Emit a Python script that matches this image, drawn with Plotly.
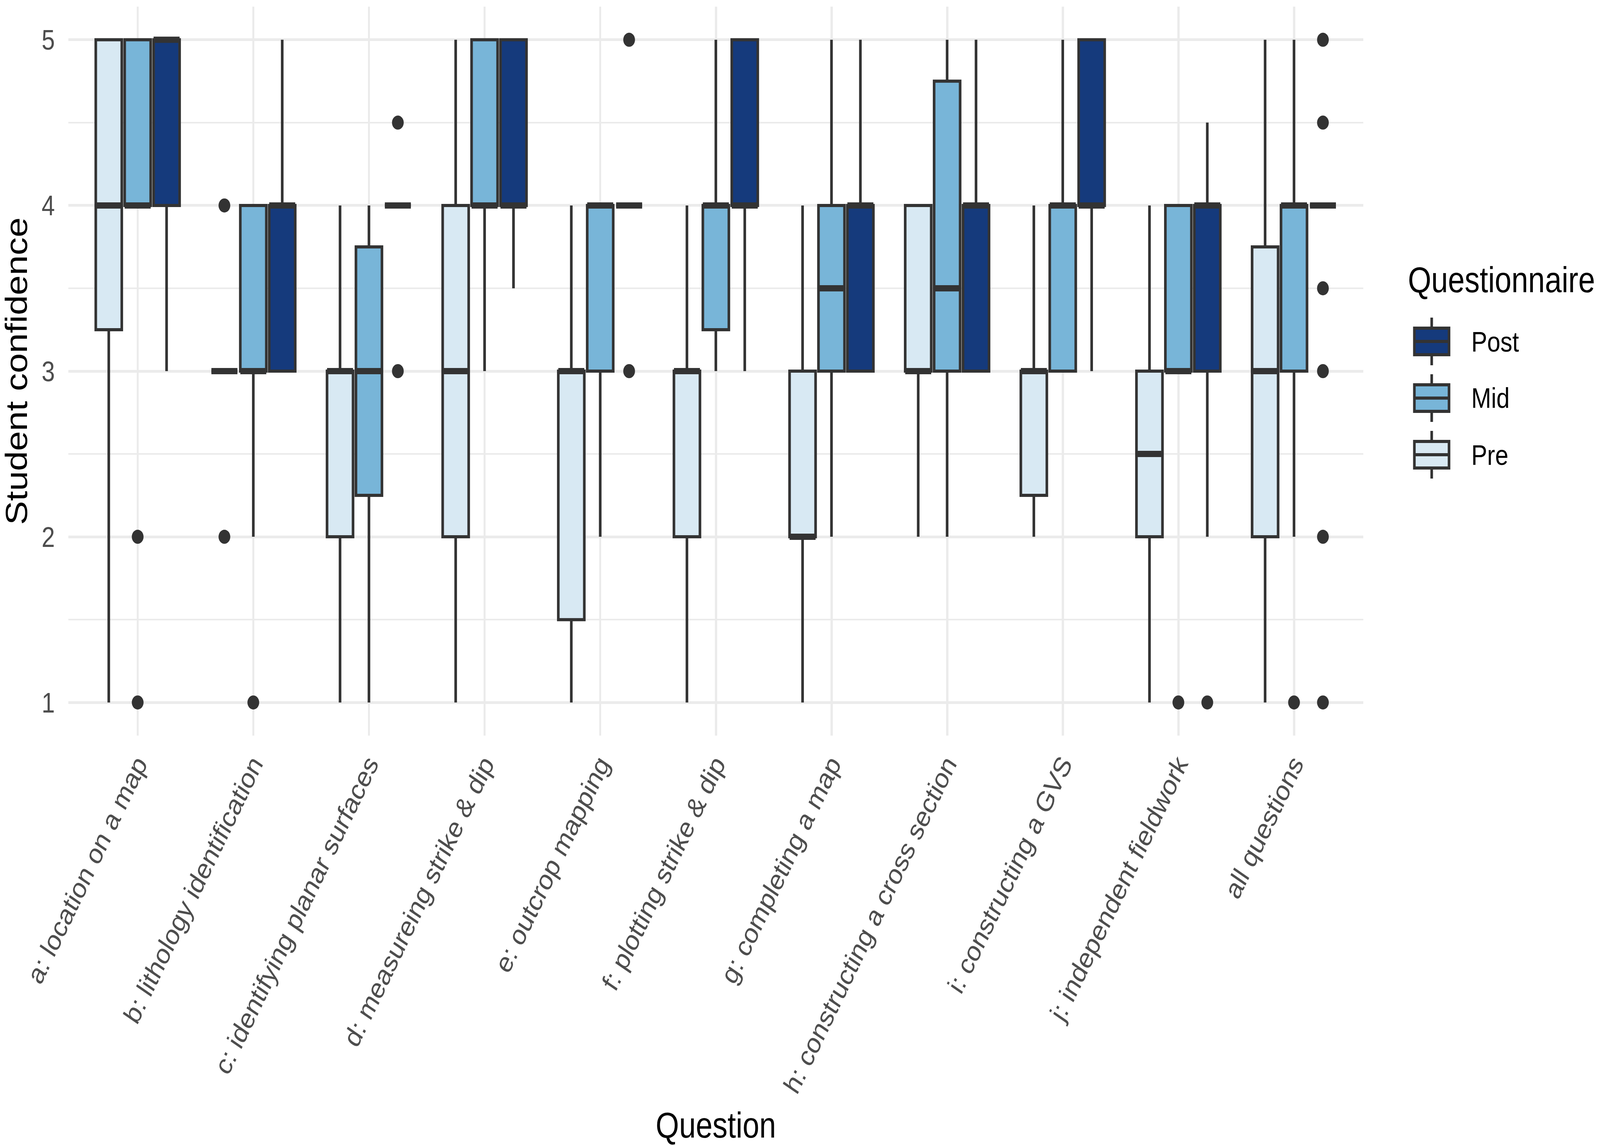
import plotly.graph_objects as go

# ---------------- data ----------------
categories = ["a: location on a map", "b: lithology identification",
              "c: identifying planar surfaces", "d: measureing strike & dip",
              "e: outcrop mapping", "f: plotting strike & dip",
              "g: completing a map", "h: constructing a cross section",
              "i: constructing a GVS", "j: independent fieldwork",
              "all questions"]

series = ["Pre", "Mid", "Post"]
colors = {"Pre": "#D8E9F3", "Mid": "#78B5D8", "Post": "#153A7C"}
offsets = {"Pre": -0.25, "Mid": 0.0, "Post": 0.25}

pre_q1 = [3.25, 3, 2, 2, 1.5, 2, 2, 3, 2.25, 2, 2]
pre_med = [4, 3, 3, 3, 3, 3, 2, 3, 3, 2.5, 3]
pre_q3 = [5, 3, 3, 4, 3, 3, 3, 4, 3, 3, 3.75]
pre_lo = [1, 3, 1, 1, 1, 1, 1, 2, 2, 1, 1]
pre_hi = [5, 3, 4, 5, 4, 4, 4, 4, 4, 4, 5]
pre_out = [[], [4, 2], [], [], [], [], [], [], [], [], []]

mid_q1 = [4, 3, 2.25, 4, 3, 3.25, 3, 3, 3, 3, 3]
mid_med = [4, 3, 3, 4, 4, 4, 3.5, 3.5, 4, 3, 4]
mid_q3 = [5, 4, 3.75, 5, 4, 4, 4, 4.75, 4, 4, 4]
mid_lo = [4, 2, 1, 3, 2, 3, 2, 2, 3, 3, 2]
mid_hi = [5, 4, 4, 5, 4, 5, 5, 5, 5, 4, 5]
mid_out = [[2, 1], [1], [], [], [], [], [], [], [], [1], [1]]

post_q1 = [4, 3, 4, 4, 4, 4, 3, 3, 4, 3, 4]
post_med = [5, 4, 4, 4, 4, 4, 4, 4, 4, 4, 4]
post_q3 = [5, 4, 4, 5, 4, 5, 4, 4, 5, 4, 4]
post_lo = [3, 3, 4, 3.5, 4, 3, 3, 3, 3, 2, 4]
post_hi = [5, 5, 4, 5, 4, 5, 5, 5, 5, 4.5, 4]
post_out = [[], [], [4.5, 3], [], [5, 3], [], [], [], [], [1], [5, 4.5, 3.5, 3, 2, 1]]

y_ticks = [1, 2, 3, 4, 5]
y_minor = [1.5, 2.5, 3.5, 4.5]

stats = {
    "Pre": (pre_q1, pre_med, pre_q3, pre_lo, pre_hi, pre_out),
    "Mid": (mid_q1, mid_med, mid_q3, mid_lo, mid_hi, mid_out),
    "Post": (post_q1, post_med, post_q3, post_lo, post_hi, post_out),
}

# ---------------- styling ----------------
FONT = "Liberation Sans"
LINE = "#333333"
GRID = "#EBEBEB"
BOX_W = 0.225
W, H = 4896, 2931
L, R, T, B = 209, 4172, 17, 1883

fig = go.Figure()
idx = list(range(len(categories)))

for s in series:
    q1, med, q3, lo, hi, out = stats[s]
    xs = [i + offsets[s] for i in idx]
    fig.add_trace(go.Box(
        x=xs, q1=q1, median=med, q3=q3, lowerfence=lo, upperfence=hi,
        width=BOX_W, whiskerwidth=0, boxpoints=False,
        fillcolor=colors[s], line=dict(color=LINE, width=8),
        name=s, showlegend=False, hoverinfo="skip"))

# thick median lines (ggplot style)
for s in series:
    q1, med, q3, lo, hi, out = stats[s]
    mx, my = [], []
    for i in idx:
        c = i + offsets[s]
        mx += [c - BOX_W / 2, c + BOX_W / 2, None]
        my += [med[i], med[i], None]
    fig.add_trace(go.Scatter(x=mx, y=my, mode="lines",
                             line=dict(color=LINE, width=16),
                             showlegend=False, hoverinfo="skip"))

# outliers
for s in series:
    out = stats[s][5]
    ox, oy = [], []
    for i in idx:
        for v in out[i]:
            ox.append(i + offsets[s])
            oy.append(v)
    fig.add_trace(go.Scatter(x=ox, y=oy, mode="markers",
                             marker=dict(color=LINE, size=36),
                             showlegend=False, hoverinfo="skip"))

# ---------------- custom legend (ggplot-like keys) ----------------
def px_x(px):
    return (px - L) / (R - L)

def px_y(py):
    return (B - py) / (B - T)

legend_order = ["Post", "Mid", "Pre"]
key_cx, key_half_w, key_half_h, whisk = 4381, 53, 34, 61
first_cy, pitch = 874, 145
shapes = []
annotations = []
for k, s in enumerate(legend_order):
    cy = first_cy + k * pitch
    shapes.append(dict(type="line", xref="paper", yref="paper",
                       x0=px_x(key_cx), x1=px_x(key_cx),
                       y0=px_y(cy - whisk), y1=px_y(cy + whisk),
                       line=dict(color=LINE, width=8)))
    shapes.append(dict(type="rect", xref="paper", yref="paper",
                       x0=px_x(key_cx - key_half_w), x1=px_x(key_cx + key_half_w),
                       y0=px_y(cy - key_half_h), y1=px_y(cy + key_half_h),
                       fillcolor=colors[s], line=dict(color=LINE, width=8)))
    shapes.append(dict(type="line", xref="paper", yref="paper",
                       x0=px_x(key_cx - key_half_w), x1=px_x(key_cx + key_half_w),
                       y0=px_y(cy), y1=px_y(cy),
                       line=dict(color=LINE, width=8)))
    annotations.append(dict(text=s, xref="paper", yref="paper",
                            x=px_x(4500), y=px_y(cy), xanchor="left", yanchor="middle",
                            showarrow=False, font=dict(family=FONT, size=73, color="black")))
annotations.append(dict(text="Questionnaire", xref="paper", yref="paper",
                        x=px_x(4306), y=px_y(716), xanchor="left", yanchor="middle",
                        showarrow=False, font=dict(family=FONT, size=92, color="black")))

fig.update_layout(
    width=W, height=H,
    margin=dict(l=L, r=W - R, t=T, b=H - B, autoexpand=False),
    paper_bgcolor="white", plot_bgcolor="white",
    font=dict(family=FONT, color="#4D4D4D"),
    showlegend=False,
    shapes=shapes, annotations=annotations,
    xaxis=dict(range=[-0.6, len(categories) - 0.4],
               tickmode="array", tickvals=idx, ticktext=categories,
               tickangle=-60, tickfont=dict(family=FONT, size=73, color="#4D4D4D"),
               showgrid=True, gridcolor=GRID, gridwidth=7,
               zeroline=False, showline=False, ticks="",
               ticklabelstandoff=16,
               title=dict(text="Question", font=dict(family=FONT, size=92, color="black"),
                          standoff=50)),
    yaxis=dict(range=[0.8, 5.2], tickmode="array", tickvals=y_ticks,
               tickfont=dict(family=FONT, size=73, color="#4D4D4D"),
               showgrid=True, gridcolor=GRID, gridwidth=7,
               minor=dict(tickmode="array", tickvals=y_minor, showgrid=True,
                          gridcolor=GRID, gridwidth=3.5, ticks=""),
               zeroline=False, showline=False, ticks="",
               ticklabelstandoff=40,
               title=dict(text="Student confidence",
                          font=dict(family=FONT, size=92, color="black"),
                          standoff=30)),
)

# map the fixed 4896x2931 figure onto the whole browser viewport
post_js = """
(function(){
  var d = document.getElementById('{plot_id}');
  document.documentElement.style.margin = '0';
  document.documentElement.style.overflow = 'hidden';
  document.body.style.margin = '0';
  document.body.style.overflow = 'hidden';
  var sx = window.innerWidth / %d, sy = window.innerHeight / %d;
  if (isFinite(sx) && isFinite(sy) && sx > 0 && sy > 0 &&
      (Math.abs(sx - 1) > 0.001 || Math.abs(sy - 1) > 0.001)) {
    d.style.transformOrigin = '0 0';
    d.style.transform = 'scale(' + sx + ',' + sy + ')';
  }
})();
""" % (W, H)

fig.write_html("out.html", post_script=post_js,
               config={"displayModeBar": False, "responsive": False})
